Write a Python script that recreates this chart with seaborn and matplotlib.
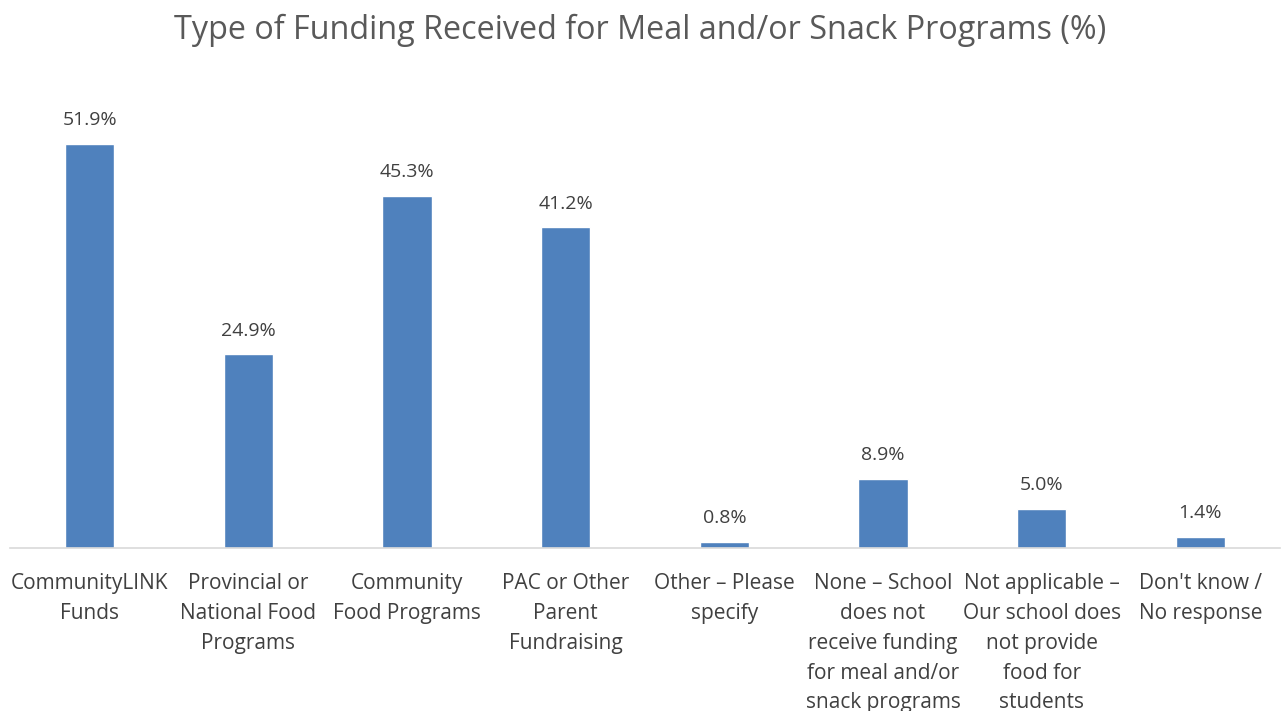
import matplotlib
matplotlib.use("Agg")
import matplotlib.pyplot as plt
import seaborn as sns
import pandas as pd

# data
categories = [
    "CommunityLINK\nFunds",
    "Provincial or\nNational Food\nPrograms",
    "Community\nFood Programs",
    "PAC or Other\nParent\nFundraising",
    "Other \u2013 Please\nspecify",
    "None \u2013 School\ndoes not\nreceive funding\nfor meal and/or\nsnack programs",
    "Not applicable \u2013\nOur school does\nnot provide\nfood for\nstudents",
    "Don't know /\nNo response",
]
percent = [51.9, 24.9, 45.3, 41.2, 0.8, 8.9, 5.0, 1.4]

df = pd.DataFrame({"category": categories, "percent": percent})

sns.set_style("white")
plt.rcParams['font.family'] = ['Open Sans', 'DejaVu Sans']

fig = plt.figure(figsize=(12.81, 7.11), dpi=100)
ax = fig.add_axes([0.008, 0.229, 0.991, 0.657])

sns.barplot(data=df, x="category", y="percent", color="#4F81BD",
            saturation=1, width=0.31, ax=ax)

# labels above bars
for i, v in enumerate(percent):
    ax.text(i, v + 1.9, f"{v:.1f}%", ha="center", va="bottom",
            fontsize=14, color="#404040")

ax.set_ylim(0, 60)
ax.set_xlim(-0.5, len(categories) - 0.5)
ax.set_yticks([])
ax.set_xlabel("")
ax.set_ylabel("")
for s in ["top", "right", "left"]:
    ax.spines[s].set_visible(False)
ax.spines["bottom"].set_color("#D9D9D9")
ax.spines["bottom"].set_linewidth(1.2)
ax.tick_params(axis="x", length=0, pad=18, labelsize=15, labelcolor="#404040")
for lbl in ax.get_xticklabels():
    lbl.set_linespacing(1.55)

fig.suptitle("Type of Funding Received for Meal and/or Snack Programs (%)",
             fontsize=23.3, color="#595959", y=0.98)

fig.savefig("out.png", dpi=100)
